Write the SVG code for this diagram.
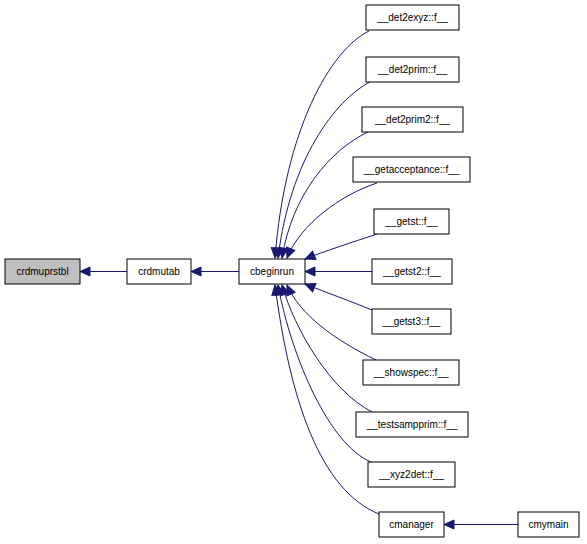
<svg xmlns="http://www.w3.org/2000/svg" width="587" height="544" viewBox="0 0 587 544">
<style>
.n rect{fill:#fff;stroke:#000;stroke-width:1}
.n text{font-family:"Liberation Sans",Arial,sans-serif;font-size:10px;text-anchor:middle;fill:#000}
.e path{fill:none;stroke:#191970;stroke-width:1}
</style>
<defs>
<marker id="a" markerUnits="userSpaceOnUse" markerWidth="12" markerHeight="11" refX="11" refY="5.5" orient="auto" viewBox="0 0 12 11">
<path d="M1,1 L11,5.5 L1,10 z" fill="#191970" stroke="#191970" stroke-width="1"/>
</marker>
</defs>
<rect width="587" height="544" fill="#fff"/>
<g id="connectors" class="e">
<path d="M127,271.5 L80,271.5" marker-end="url(#a)"/>
<path d="M239,271.5 L191,271.5" marker-end="url(#a)"/>
<path d="M518,524.5 L444,524.5" marker-end="url(#a)"/>
<path d="M372,271.5 L305,271.5" marker-end="url(#a)"/>
<path d="M369,31 C330,50 285,130 275,258" marker-end="url(#a)"/>
<path d="M370,82 C335,100 290,160 278,258" marker-end="url(#a)"/>
<path d="M368,132 C330,150 292,195 282,258" marker-end="url(#a)"/>
<path d="M377,183 C340,195 300,225 287,258" marker-end="url(#a)"/>
<path d="M377,234 C350,243 325,251 305,259" marker-end="url(#a)"/>
<path d="M372,310 C350,301 325,292 305,284" marker-end="url(#a)"/>
<path d="M376,360 C335,340 300,315 287,285" marker-end="url(#a)"/>
<path d="M372,412 C330,390 295,330 282,285" marker-end="url(#a)"/>
<path d="M371,462 C330,445 292,360 278,285" marker-end="url(#a)"/>
<path d="M379,514 C320,490 290,400 275,285" marker-end="url(#a)"/>
</g>
<g id="crdmuprstbl" class="n"><rect x="5" y="259" width="75" height="25" style="fill:#bfbfbf"/><text x="42.5" y="275">crdmuprstbl</text></g>
<g id="crdmutab" class="n"><rect x="127" y="259" width="64" height="25"/><text x="159" y="275">crdmutab</text></g>
<g id="cbeginrun" class="n"><rect x="239" y="259" width="66" height="25"/><text x="272" y="275">cbeginrun</text></g>
<g id="det2exyz" class="n"><rect x="366" y="5" width="93" height="25"/><text x="412.5" y="21">__det2exyz::f__</text></g>
<g id="det2prim" class="n"><rect x="366" y="57" width="93" height="25"/><text x="412.5" y="73">__det2prim::f__</text></g>
<g id="det2prim2" class="n"><rect x="362" y="107" width="101" height="25"/><text x="412.5" y="123">__det2prim2::f__</text></g>
<g id="getacceptance" class="n"><rect x="353" y="157" width="117" height="25"/><text x="411.5" y="173">__getacceptance::f__</text></g>
<g id="getst" class="n"><rect x="374" y="209" width="75" height="25"/><text x="411.5" y="225">__getst::f__</text></g>
<g id="getst2" class="n"><rect x="372" y="259" width="80" height="25"/><text x="412" y="275">__getst2::f__</text></g>
<g id="getst3" class="n"><rect x="372" y="309" width="79" height="25"/><text x="411.5" y="325">__getst3::f__</text></g>
<g id="showspec" class="n"><rect x="363" y="360" width="96" height="25"/><text x="411" y="376">__showspec::f__</text></g>
<g id="testsampprim" class="n"><rect x="356" y="412" width="112" height="25"/><text x="412" y="428">__testsampprim::f__</text></g>
<g id="xyz2det" class="n"><rect x="368" y="462" width="87" height="25"/><text x="411.5" y="478">__xyz2det::f__</text></g>
<g id="cmanager" class="n"><rect x="379" y="512" width="65" height="25"/><text x="411.5" y="528">cmanager</text></g>
<g id="cmymain" class="n"><rect x="518" y="512" width="61" height="25"/><text x="548.5" y="528">cmymain</text></g>
</svg>
